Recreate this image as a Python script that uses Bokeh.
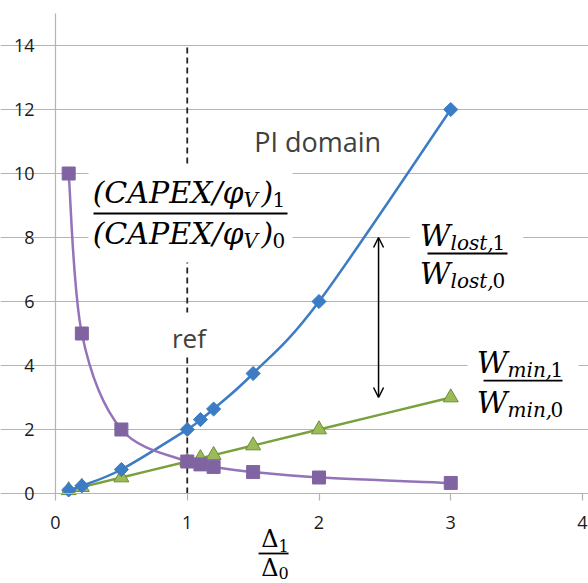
import numpy as np
from bokeh.plotting import figure
from bokeh.models import Range1d, Label, Arrow, OpenHead, BoxAnnotation, FixedTicker
from bokeh.embed import file_html
from bokeh.resources import INLINE

# ---------------- data ----------------
delta_ratio = [0.1, 0.2, 0.5, 1.0, 1.1, 1.2, 1.5, 2.0, 3.0]
w_lost_ratio = [0.11, 0.24, 0.75, 2.0, 2.31, 2.64, 3.75, 6.0, 12.0]
w_min_ratio = [0.1, 0.2, 0.5, 1.0, 1.1, 1.2, 1.5, 2.0, 3.0]
capex_ratio = [10.0, 5.0, 2.0, 1.0, 0.91, 0.83, 0.67, 0.5, 0.33]
x_ticks = [0, 1, 2, 3, 4]
y_ticks = [0, 2, 4, 6, 8, 10, 12, 14]
ref_x = [1.0]
ref_y = [0.0, 13.95]
arrow_x = 2.452
arrow_y = [3.0, 8.0]

# ---------------- style ----------------
BLUE = "#3b7cc4"
GREEN_LINE = "#78a03c"
GREEN_FILL = "#9bbb59"
GREEN_EDGE = "#6f8c3a"
PURPLE_LINE = "#9473b9"
PURPLE_FILL = "#8064a2"
GRID = "#b4b4b4"
PX = 131.75  # px per x unit
PY = 32.0    # px per y unit
BASE_FIX = 0.35  # label baseline compensation (em)
W, H = 588, 583
X0_PX, Y15_PX = 55, 13  # where x=0 and y=15 sit on the canvas

p = figure(frame_width=W, frame_height=H, output_backend="svg", toolbar_location=None,
           x_range=Range1d(-X0_PX / PX, (W - X0_PX) / PX),
           y_range=Range1d(15 + Y15_PX / PY - H / PY, 15 + Y15_PX / PY),
           min_border_left=0, min_border_right=0, min_border_top=0, min_border_bottom=0)
p.outline_line_color = None
p.background_fill_color = "white"
p.border_fill_color = "white"

p.xgrid.visible = False
p.ygrid.grid_line_color = GRID
p.ygrid.grid_line_width = 1.2
p.ygrid.ticker = FixedTicker(ticks=y_ticks)
p.ygrid.bounds = (0, 4)

p.xaxis.ticker = FixedTicker(ticks=x_ticks)
p.xaxis.fixed_location = 0
p.xaxis.bounds = (0, 4)
p.yaxis.ticker = FixedTicker(ticks=y_ticks)
p.yaxis.fixed_location = 0
p.yaxis.bounds = (0, 15)
for ax in (p.xaxis, p.yaxis):
    ax.axis_line_color = GRID
    ax.axis_line_width = 1.2
    ax.major_tick_line_color = GRID
    ax.major_tick_line_width = 1.2
    ax.major_tick_in = 0
    ax.major_tick_out = 7
    ax.minor_tick_line_color = None
    ax.major_label_text_font = "Open Sans"
    ax.major_label_text_font_size = "18px"
    ax.major_label_text_color = "#1a1a1a"
p.xaxis.major_label_standoff = 15
p.yaxis.major_label_standoff = 14


def smooth(xs, ys):
    n = len(xs)
    P = list(zip(xs, ys))
    out = {k: [] for k in ("x0", "y0", "x1", "y1", "cx0", "cy0", "cx1", "cy1")}
    for i in range(n - 1):
        pm = P[i - 1] if i > 0 else P[i]
        a = P[i]
        b = P[i + 1]
        pn = P[i + 2] if i + 2 < n else P[i + 1]
        out["x0"].append(a[0]); out["y0"].append(a[1])
        out["x1"].append(b[0]); out["y1"].append(b[1])
        out["cx0"].append(a[0] + (b[0] - pm[0]) / 6); out["cy0"].append(a[1] + (b[1] - pm[1]) / 6)
        out["cx1"].append(b[0] - (pn[0] - a[0]) / 6); out["cy1"].append(b[1] - (pn[1] - a[1]) / 6)
    return out

# reference dashed line
p.segment(x0=ref_x, y0=[ref_y[0]], x1=ref_x, y1=[ref_y[1]], line_color="#222222",
          line_width=1.8, line_dash="6 4")

# white boxes behind labels (drawn above grid / ref line)
boxes = [(0.25, 1.80, 7.22, 10.25), (2.69, 3.55, 6.28, 8.69), (3.127, 3.97, 2.28, 4.78),
         (0.86, 1.16, 4.34, 5.66)]
for l, r, b, t in boxes:
    p.add_layout(BoxAnnotation(left=l, right=r, bottom=b, top=t, fill_color="white",
                               fill_alpha=1.0, line_color=None, level="glyph"))

# green (W_min)
s = smooth(delta_ratio, w_min_ratio)
p.bezier(line_color=GREEN_LINE, line_width=2.5, **s)
p.scatter(delta_ratio, w_min_ratio, marker="triangle", size=15, fill_color=GREEN_FILL,
          line_color=GREEN_EDGE, line_width=1)

# blue (W_lost)
s = smooth(delta_ratio, w_lost_ratio)
p.bezier(line_color=BLUE, line_width=2.5, **s)
p.scatter(delta_ratio, w_lost_ratio, marker="square", angle=np.pi / 4, size=10,
          fill_color=BLUE, line_color=BLUE)

# purple (CAPEX)
s = smooth(delta_ratio, capex_ratio)
p.bezier(line_color=PURPLE_LINE, line_width=2.5, **s)
p.scatter(delta_ratio, capex_ratio, marker="square", size=13, fill_color=PURPLE_FILL,
          line_color=PURPLE_FILL)

# double arrow
p.add_layout(Arrow(start=OpenHead(size=10, line_width=1.5), end=OpenHead(size=10, line_width=1.5),
                   x_start=arrow_x, y_start=arrow_y[0], x_end=arrow_x, y_end=arrow_y[1],
                   line_width=1.5, line_color="black"))


def piece(x, y, dx, dy, text, size, align="left", italic=True, font="DejaVu Serif",
          color="black"):
    p.add_layout(Label(x=x, y=y, x_offset=dx, y_offset=dy + BASE_FIX * size, text=text,
                       text_font=font, text_font_style="italic" if italic else "normal",
                       text_font_size=f"{size}px", text_color=color,
                       text_align=align, text_baseline="alphabetic"))


def bar(x, y, left_px, right_px, width=1.8):
    p.add_layout(Arrow(end=None, x_start=x + left_px / PX, y_start=y,
                       x_end=x + right_px / PX, y_end=y, line_width=width, line_color="black"))

# plain texts
piece(1.99, 10.72, 0, 0, "PI domain", 27, "center", italic=False, font="Open Sans", color="#404040")
piece(1.013, 4.56, 0, 0, "ref", 26, "center", italic=False, font="Open Sans", color="#404040")

# CAPEX fraction
cx, cy = 1.0247, 8.75
piece(cx, cy, 53, 11, "(CAPEX/φ", 30, "right")
piece(cx, cy, 53, 7, "V", 20)
piece(cx, cy, 71, 11, ")", 30)
piece(cx, cy, 82, 7, "1", 20, italic=False)
bar(cx, cy, -97, 97)
piece(cx, cy, 53, -30, "(CAPEX/φ", 30, "right")
piece(cx, cy, 53, -34, "V", 20)
piece(cx, cy, 71, -30, ")", 30)
piece(cx, cy, 82, -34, "0", 20, italic=False)

# W_lost fraction
wx, wy = 3.127, 7.5
piece(wx, wy, -17, 8, "W", 30, "right")
piece(wx, wy, -17, 4, "lost,", 20)
piece(wx, wy, 25, 4, "1", 20, italic=False)
bar(wx, wy, -40, 40)
piece(wx, wy, -17, -30, "W", 30, "right")
piece(wx, wy, -17, -34, "lost,", 20)
piece(wx, wy, 25, -34, "0", 20, italic=False)

# W_min fraction
mx, my = 3.545, 3.53
piece(mx, my, -15, 8, "W", 30, "right")
piece(mx, my, -15, 4, "min,", 20)
piece(mx, my, 28, 4, "1", 20, italic=False)
bar(mx, my, -39, 40)
piece(mx, my, -15, -32, "W", 30, "right")
piece(mx, my, -15, -36, "min,", 20)
piece(mx, my, 28, -36, "0", 20, italic=False)

# x-axis label Δ1/Δ0
dx_, dy_ = 1.655, -1.875
piece(dx_, dy_, 5, 6, "Δ", 24, "right", italic=False)
piece(dx_, dy_, 5, 2, "1", 16, italic=False)
bar(dx_, dy_, -15, 15)
piece(dx_, dy_, 5, -23, "Δ", 24, "right", italic=False)
piece(dx_, dy_, 5, -25, "0", 16, italic=False)

open("out.html", "w").write(file_html(p, INLINE))
